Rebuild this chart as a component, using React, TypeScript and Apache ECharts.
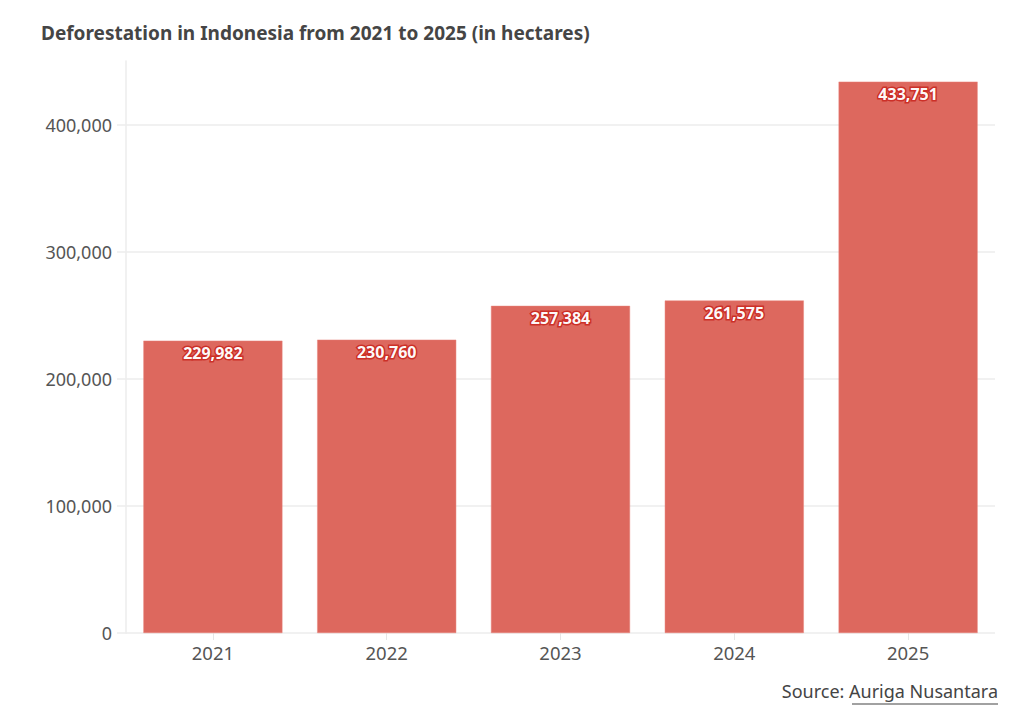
import React, { useEffect, useRef } from "react";
import * as echarts from "echarts";

const years = ["2021", "2022", "2023", "2024", "2025"];
const hectares = [229982, 230760, 257384, 261575, 433751];
const yTicks = [0, 100000, 200000, 300000, 400000];
const titleText = "Deforestation in Indonesia from 2021 to 2025 (in hectares)";
const sourceLabel = "Source: ";
const sourceName = "Auriga Nusantara";

const FONT = "'Noto Sans', sans-serif";

export default function App() {
  const ref = useRef<HTMLDivElement>(null);
  useEffect(() => {
    if (!ref.current) return;
    const chart = echarts.init(ref.current, undefined, { renderer: "svg" });
    chart.setOption({
      animation: false,
      backgroundColor: "#ffffff",
      title: {
        text: titleText,
        left: 36,
        top: 18,
        textStyle: { fontFamily: FONT, fontSize: 19, fontWeight: "bold", color: "#454545" },
      },
      grid: { left: 126, right: 29, top: 61, bottom: 82 },
      xAxis: {
        type: "category",
        data: years,
        axisLine: { show: false },
        axisTick: { show: true, alignWithLabel: true, length: 7, lineStyle: { color: "#e6e6e6" } },
        axisLabel: { fontFamily: FONT, fontSize: 18.5, color: "#555", margin: 10 },
      },
      yAxis: {
        type: "value",
        min: 0,
        max: 450000,
        axisLine: { show: true, lineStyle: { color: "#ececec", width: 1.5 } },
        axisTick: { show: true, length: 9, customValues: yTicks, lineStyle: { color: "#ececec", width: 1.5 } },
        axisLabel: {
          customValues: yTicks,
          fontFamily: FONT,
          fontSize: 18,
          color: "#555",
          margin: 14,
          formatter: (v: number) => v.toLocaleString("en-US"),
        },
        splitLine: { show: true, lineStyle: { color: "#ececec", width: 1.5 } },
      },
      series: [
        {
          type: "bar",
          data: hectares,
          barCategoryGap: "20%",
          itemStyle: { color: "#dc6359", opacity: 0.97, borderColor: "#e8837a", borderWidth: 0.5 },
          label: {
            show: true,
            position: "insideTop",
            distance: 4,
            fontFamily: FONT,
            fontSize: 16,
            fontWeight: "bold",
            color: "#ffffff",
            textBorderColor: "#cc2f27",
            textBorderWidth: 3,
            formatter: (p: any) => Number(p.value).toLocaleString("en-US"),
          },
        },
      ],
      graphic: [
        {
          type: "text",
          right: 26,
          top: 682,
          style: {
            text: sourceLabel + sourceName,
            fontFamily: FONT,
            fontSize: 18,
            fill: "#444",
          },
        },
        {
          type: "line",
          shape: { x1: 852, y1: 704, x2: 998, y2: 704 },
          style: { stroke: "#444", lineWidth: 1.2 },
        },
      ],
    });
    return () => chart.dispose();
  }, []);
  return (
    <div
      ref={ref}
      style={{ position: "fixed", left: 0, top: 0, width: 1024, height: 715, background: "#fff" }}
    />
  );
}
